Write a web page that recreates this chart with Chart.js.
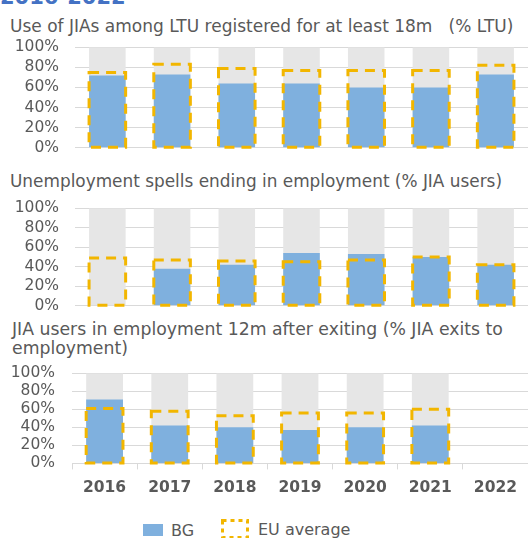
<!DOCTYPE html>
<html>
<head>
<meta charset="utf-8">
<script src="https://cdn.jsdelivr.net/npm/chart.js@4.4.0/dist/chart.umd.min.js"></script>
<style>
  body { margin: 0; background: #fff; width: 528px; height: 538px; overflow: hidden; position: relative; font-family: "DejaVu Sans", Verdana, sans-serif; }
  canvas { position: absolute; left: 0; }
  .title { position: absolute; left: 10px; font-size: 17px; line-height: 19px; color: #595959; white-space: nowrap; }
  .head { position: absolute; left: 0; top: -13px; font-size: 21px; line-height: 21px; font-weight: bold; color: #4472c4; }
  .leg { position: absolute; font-size: 16px; line-height: 16px; color: #595959; }
</style>
</head>
<body>
<div class="head">2016-2022</div>

<div class="title" style="top:17px">Use of JIAs among LTU registered for at least 18m&nbsp;&nbsp;&nbsp;(% LTU)</div>
<div class="title" style="top:172px; font-size:16.9px">Unemployment spells ending in employment (% JIA users)</div>
<div class="title" style="top:320px; left:12px; font-size:17.3px">JIA users in employment 12m after exiting (% JIA exits to<br>employment)</div>

<canvas id="c1" width="528" height="151" style="top:22px"></canvas>
<canvas id="c2" width="528" height="148" style="top:183px"></canvas>
<canvas id="c3" width="528" height="159" style="top:347px"></canvas>

<div class="leg" style="left:143px; top:524px; width:20px; height:12px; background:#7fb0de"></div>
<div class="leg" style="left:171px; top:523px">BG</div>
<svg class="leg" style="left:221px; top:519px" width="28" height="20">
  <rect x="1.5" y="1.5" width="25" height="17" fill="none" stroke="#f2b600" stroke-width="3" stroke-dasharray="4 4"></rect>
</svg>
<div class="leg" style="left:258px; top:522px">EU average</div>

<script>
// values (%)
const years = ['2016', '2017', '2018', '2019', '2020', '2021', '2022'];

const ltuMax = [100, 100, 100, 100, 100, 100, 100];
const ltuBg  = [72, 73, 64, 64, 60, 60, 73];
const ltuEu  = [75, 83, 79, 77, 77, 77, 82];

const spellsMax = [100, 100, 100, 100, 100, 100, 100];
const spellsBg  = [null, 38, 42, 54, 53, 50, 42];
const spellsEu  = [49, 47, 46, 45, 47, 50, 42];

const exitsMax = [100, 100, 100, 100, 100, 100, null];
const exitsBg  = [71, 42, 40, 37, 40, 42, null];
const exitsEu  = [61, 58, 53, 56, 56, 60, null];

const BLUE = '#7fb0de';
const GREY = '#e6e6e6';
const EU_COLOR = '#f2b600';
const GRID = '#d9d9d9';
const TEXT = '#595959';

// Chart.js bars can't have dashed borders, so stroke the EU boxes ourselves
const dashedBoxes = {
  id: 'dashedBoxes',
  afterDatasetsDraw(chart) {
    const meta = chart.getDatasetMeta(2);
    const vals = chart.data.datasets[2].data;
    const ctx = chart.ctx;
    ctx.save();
    ctx.strokeStyle = EU_COLOR;
    ctx.lineWidth = 3;
    ctx.setLineDash([10, 7]);
    meta.data.forEach((bar, i) => {
      if (vals[i] == null) return;
      const left = bar.x - bar.width / 2;
      ctx.strokeRect(left, bar.y, bar.width, bar.base - bar.y);
    });
    ctx.restore();
  }
};

function makeChart(id, maxData, bgData, euData, showX, axisWidth, pad) {
  const ctx = document.getElementById(id).getContext('2d');
  return new Chart(ctx, {
    type: 'bar',
    data: {
      labels: years,
      datasets: [
        { label: 'max', data: maxData, backgroundColor: GREY, grouped: false, order: 3 },
        { label: 'BG', data: bgData, backgroundColor: BLUE, grouped: false, order: 2 },
        { label: 'EU average', data: euData, backgroundColor: 'rgba(0,0,0,0)', grouped: false, order: 1 }
      ]
    },
    options: {
      responsive: false,
      animation: false,
      datasets: { bar: { barPercentage: 0.565, categoryPercentage: 1 } },
      layout: { padding: 0 },
      scales: {
        x: {
          display: showX,
          grid: { drawOnChartArea: false, drawTicks: true, tickLength: 6, color: GRID, offset: true },
          border: { display: true, color: GRID },
          ticks: { color: TEXT, padding: 9, font: { family: 'DejaVu Sans', size: 15.5, weight: 'bold' } }
        },
        y: {
          min: 0,
          max: 100,
          afterFit(scale) { scale.width = axisWidth; },
          grid: { color: GRID, drawTicks: false },
          border: { display: false },
          ticks: {
            stepSize: 20,
            autoSkip: false,
            padding: pad,
            color: TEXT,
            font: { family: 'DejaVu Sans', size: 15.5 },
            callback: v => v + '%'
          }
        }
      },
      plugins: {
        legend: { display: false },
        tooltip: { enabled: false }
      }
    },
    plugins: [dashedBoxes]
  });
}

makeChart('c1', ltuMax, ltuBg, ltuEu, false, 75, 16);
makeChart('c2', spellsMax, spellsBg, spellsEu, false, 75, 16);
makeChart('c3', exitsMax, exitsBg, exitsEu, true, 72, 17);
</script>
</body>
</html>
